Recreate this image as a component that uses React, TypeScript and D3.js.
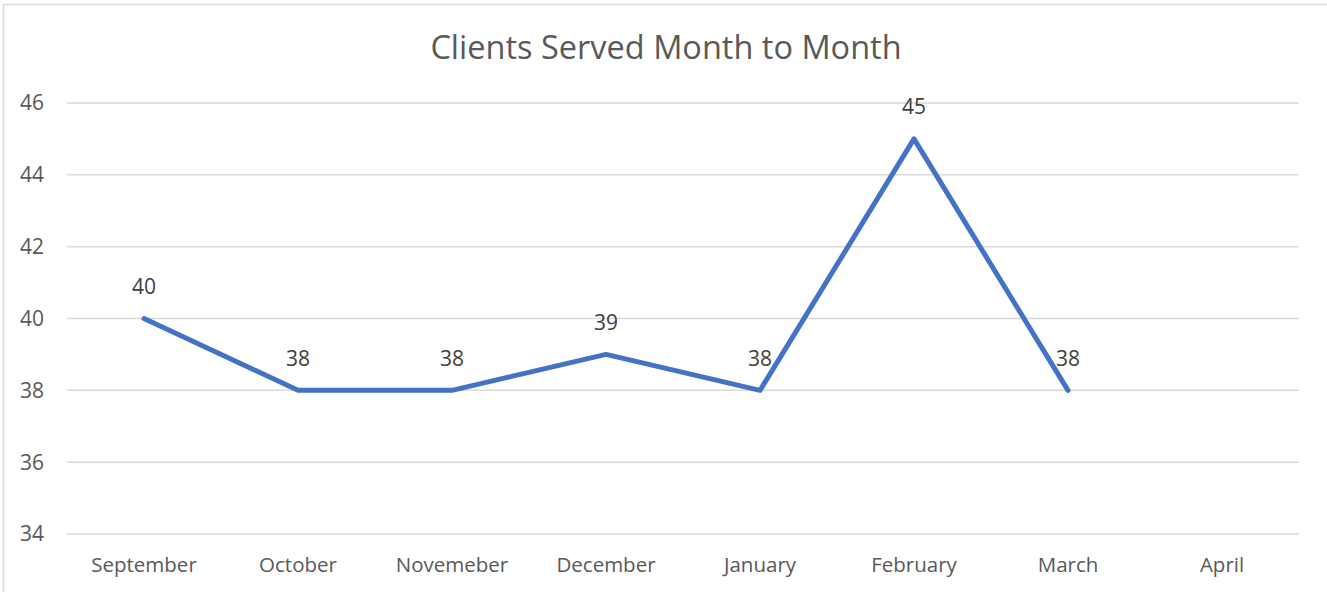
import React from "react";
import * as d3 from "d3";

const categories = ["September", "October", "Novemeber", "December", "January", "February", "March", "April"];
const values: (number | null)[] = [40, 38, 38, 39, 38, 45, 38, null];
const yTicks = [34, 36, 38, 40, 42, 44, 46];
const title = "Clients Served Month to Month";

const W = 1327;
const H = 592;
const FONT = "'Open Sans', 'Noto Sans', sans-serif";
const TXT = "#595959";

export default function App() {
  const x = d3.scaleBand<string>().domain(categories).range([67, 1299]);
  const y = d3.scaleLinear().domain([34, 46]).range([534, 103]);
  const pts = categories
    .map((c, i) => ({ c, v: values[i] }))
    .filter((d) => d.v !== null) as { c: string; v: number }[];
  const line = d3
    .line<{ c: string; v: number }>()
    .x((d) => (x(d.c) as number) + x.bandwidth() / 2)
    .y((d) => y(d.v));
  return (
    <svg width={W} height={H} style={{ position: "absolute", left: 0, top: 0, background: "#fff" }}>
      <rect x={3.5} y={4.5} width={1330} height={600} fill="#fff" stroke="#d9d9d9" strokeWidth={1.5} />
      <text x={666} y={48} dy="0.35em" textAnchor="middle" fontFamily={FONT} fontSize={32.5} fill={TXT}>
        {title}
      </text>
      {yTicks.map((t) => (
        <g key={t}>
          <line x1={67} x2={1299} y1={y(t)} y2={y(t)} stroke="#d9d9d9" strokeWidth={1.5} />
          <text x={44} y={y(t)} dy="0.35em" textAnchor="end" fontFamily={FONT} fontSize={21} fill={TXT}>
            {t}
          </text>
        </g>
      ))}
      {categories.map((c) => (
        <text
          key={c}
          x={(x(c) as number) + x.bandwidth() / 2}
          y={565}
          dy="0.35em"
          textAnchor="middle"
          fontFamily={FONT}
          fontSize={20.5}
          fill={TXT}
        >
          {c}
        </text>
      ))}
      <path d={line(pts) || ""} fill="none" stroke="#4472C4" strokeWidth={5} strokeLinejoin="round" strokeLinecap="round" />
      {pts.map((d) => (
        <text
          key={d.c}
          x={(x(d.c) as number) + x.bandwidth() / 2}
          y={y(d.v) - 32}
          dy="0.35em"
          textAnchor="middle"
          fontFamily={FONT}
          fontSize={21}
          fill="#404040"
        >
          {d.v}
        </text>
      ))}
    </svg>
  );
}
